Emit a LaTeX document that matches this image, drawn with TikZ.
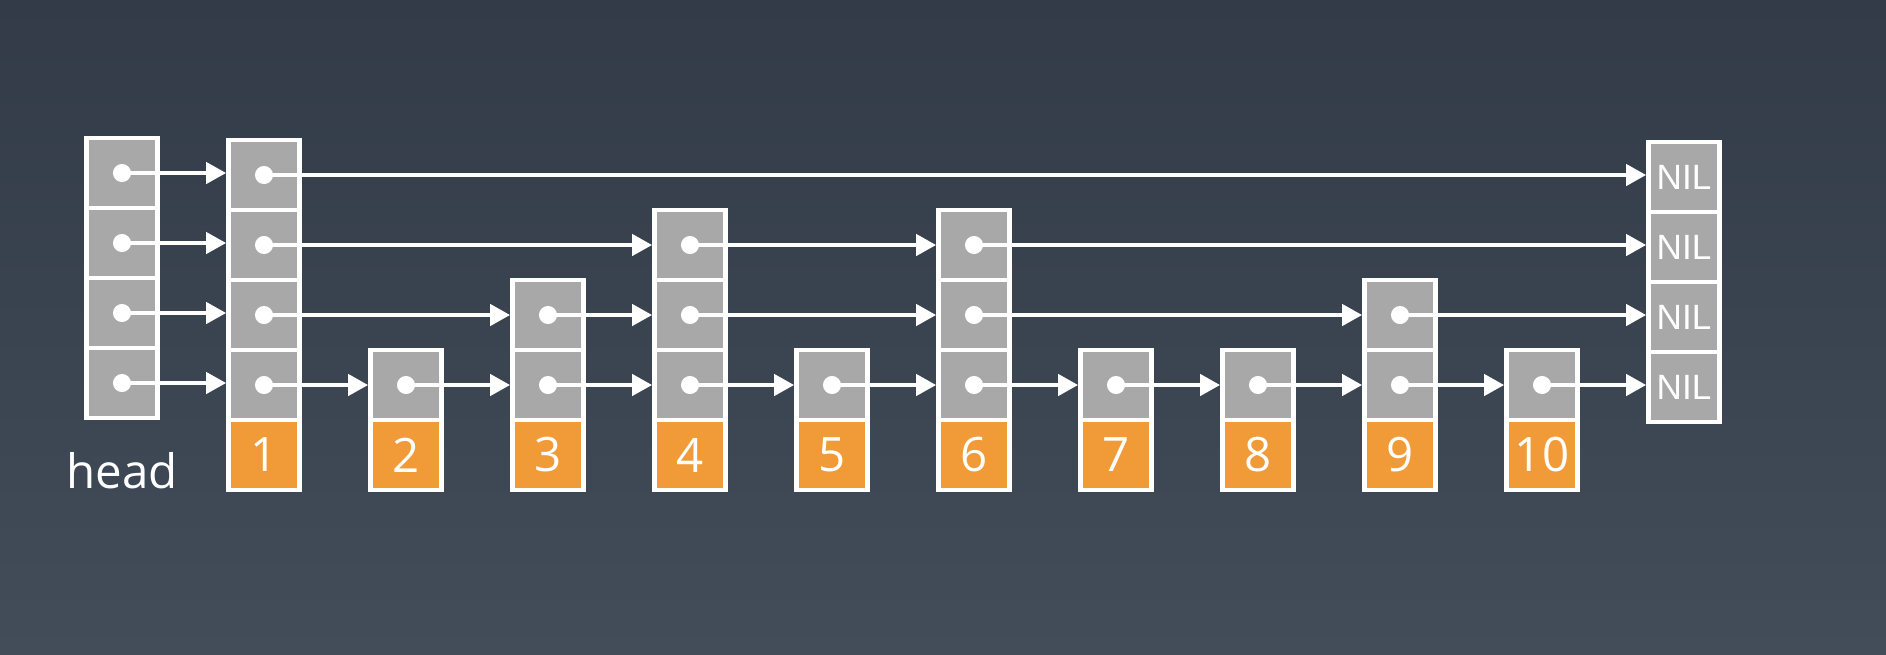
\documentclass[tikz,border=0pt]{standalone}
\usepackage{fontspec}
\setmainfont{Open Sans}
\newfontfamily\nilfont{Liberation Sans}
\usetikzlibrary{arrows.meta}

\definecolor{bgtop}{RGB}{50,59,71}
\definecolor{bgbot}{RGB}{66,77,89}
\definecolor{cellgrey}{RGB}{168,168,168}
\definecolor{keyorange}{RGB}{241,154,56}

\tikzset{
  cell/.style={draw=white, fill=cellgrey, line width=0.095cm,
    minimum width=1.42cm, minimum height=1.4cm, inner sep=0pt},
  key/.style={cell, fill=keyorange, text=white,
    font=\fontsize{27}{27}\selectfont},
  nil/.style={cell, text=white, font=\nilfont\fontsize{20}{20}\selectfont},
  ptr/.style={white, line width=0.085cm,
    {Circle[length=0.36cm]}-{Triangle[length=0.4cm,width=0.42cm]},
    shorten <=-0.18cm}
}

\begin{document}
\begin{tikzpicture}[x=0.02cm, y=-0.02cm] % one unit is one pixel, y down
    \shade[top color=bgtop, bottom color=bgbot] (0,0) rectangle (1886,654);

    % head
    \node (H1) at (122,383) [cell] {};
    \node (H2) at (122,313) [cell] {};
    \node (H3) at (122,243) [cell] {};
    \node (H4) at (122,173) [cell] {};
    \node (head) at (122,471) [text=white, font=\fontsize{27}{27}\selectfont] {head
    };

    % nodes 1 to 10
    \node (c1a) at (264,385) [cell] {};
    \node (c1b) at (264,315) [cell] {};
    \node (c1c) at (264,245) [cell] {};
    \node (c1d) at (264,175) [cell] {};
    \node (k1) at (264,455) [key] {1
    };
    \node (c2a) at (406,385) [cell] {};
    \node (k2) at (406,455) [key] {2
    };
    \node (c3a) at (548,385) [cell] {};
    \node (c3b) at (548,315) [cell] {};
    \node (k3) at (548,455) [key] {3
    };
    \node (c4a) at (690,385) [cell] {};
    \node (c4b) at (690,315) [cell] {};
    \node (c4c) at (690,245) [cell] {};
    \node (k4) at (690,455) [key] {4
    };
    \node (c5a) at (832,385) [cell] {};
    \node (k5) at (832,455) [key] {5
    };
    \node (c6a) at (974,385) [cell] {};
    \node (c6b) at (974,315) [cell] {};
    \node (c6c) at (974,245) [cell] {};
    \node (k6) at (974,455) [key] {6
    };
    \node (c7a) at (1116,385) [cell] {};
    \node (k7) at (1116,455) [key] {7
    };
    \node (c8a) at (1258,385) [cell] {};
    \node (k8) at (1258,455) [key] {8
    };
    \node (c9a) at (1400,385) [cell] {};
    \node (c9b) at (1400,315) [cell] {};
    \node (k9) at (1400,455) [key] {9
    };
    \node (c10a) at (1542,385) [cell] {};
    \node (k10) at (1542,455) [key] {10
    };

    % tail
    \node (nilA) at (1684,387) [nil] {NIL
    };
    \node (nilB) at (1684,317) [nil] {NIL
    };
    \node (nilC) at (1684,247) [nil] {NIL
    };
    \node (nilD) at (1684,177) [nil] {NIL
    };

    % level 4
    \draw[ptr] (H4.center) -- (c1d.west |- H4.center);
    \draw[ptr] (c1d.center) -- (nilD.west |- c1d.center);
    % level 3
    \draw[ptr] (H3.center) -- (c1c.west |- H3.center);
    \draw[ptr] (c1c.center) -- (c4c.west);
    \draw[ptr] (c4c.center) -- (c6c.west);
    \draw[ptr] (c6c.center) -- (nilC.west |- c6c.center);
    % level 2
    \draw[ptr] (H2.center) -- (c1b.west |- H2.center);
    \draw[ptr] (c1b.center) -- (c3b.west);
    \draw[ptr] (c3b.center) -- (c4b.west);
    \draw[ptr] (c4b.center) -- (c6b.west);
    \draw[ptr] (c6b.center) -- (c9b.west);
    \draw[ptr] (c9b.center) -- (nilB.west |- c9b.center);
    % level 1
    \draw[ptr] (H1.center) -- (c1a.west |- H1.center);
    \draw[ptr] (c1a.center) -- (c2a.west);
    \draw[ptr] (c2a.center) -- (c3a.west);
    \draw[ptr] (c3a.center) -- (c4a.west);
    \draw[ptr] (c4a.center) -- (c5a.west);
    \draw[ptr] (c5a.center) -- (c6a.west);
    \draw[ptr] (c6a.center) -- (c7a.west);
    \draw[ptr] (c7a.center) -- (c8a.west);
    \draw[ptr] (c8a.center) -- (c9a.west);
    \draw[ptr] (c9a.center) -- (c10a.west);
    \draw[ptr] (c10a.center) -- (nilA.west |- c10a.center);
  \end{tikzpicture}
\end{document}
